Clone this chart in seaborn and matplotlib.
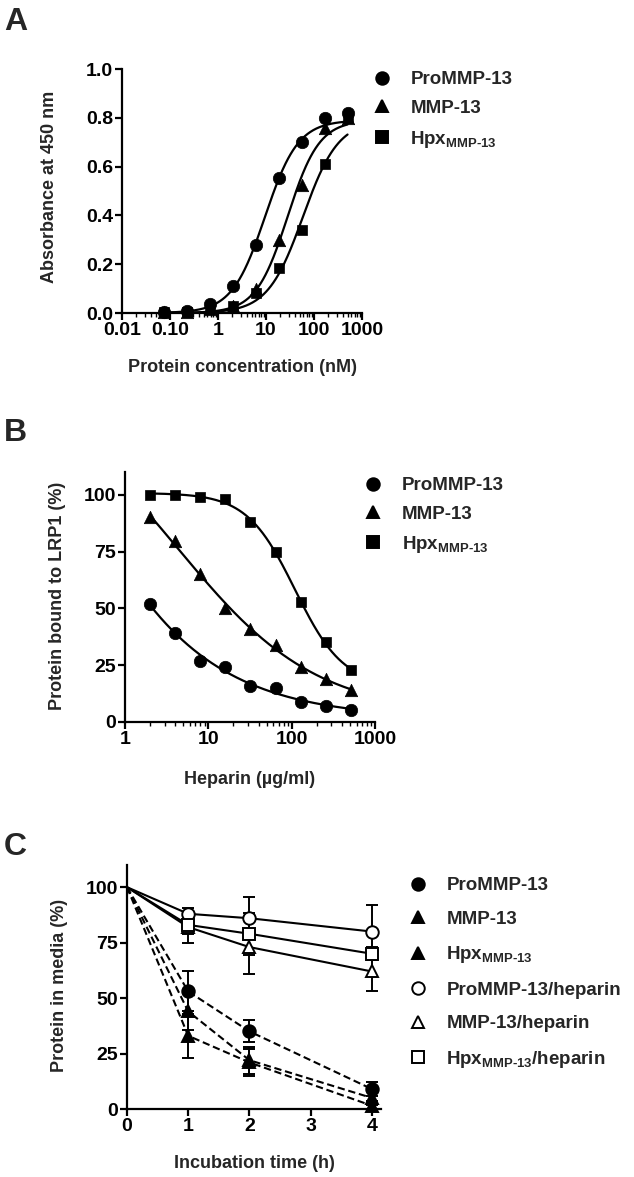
import numpy as np
import pandas as pd
import matplotlib
matplotlib.use('Agg')
import matplotlib.pyplot as plt
import seaborn as sns
from matplotlib.lines import Line2D
from matplotlib.ticker import FixedLocator, FixedFormatter, LogLocator, NullFormatter

# ---- panel A: binding to LRP1 (ELISA)
conc_nM = [0.076, 0.229, 0.686, 2.06, 6.17, 18.5, 55.6, 167, 500]
abs_pro = [0.005, 0.01, 0.035, 0.11, 0.28, 0.555, 0.70, 0.80, 0.82]
abs_mmp = [0.005, 0.005, 0.015, 0.03, 0.10, 0.30, 0.525, 0.76, 0.80]
abs_hpx = [0.005, 0.005, 0.02, 0.03, 0.08, 0.185, 0.34, 0.61, 0.80]
# plateau of the fitted curves (shared bottom / top)
abs_fit_bottom = 0.0
abs_fit_top = 0.79

# ---- panel B: heparin competition
heparin = [2, 4, 8, 16, 32, 64, 128, 256, 512]
bound_pro = [52, 39, 27, 24, 16, 15, 9, 7, 5.5]
bound_mmp = [90, 79.5, 65, 50, 41, 34, 24, 19, 14]
bound_hpx = [100, 100, 99, 98, 88, 75, 53, 35, 23]

# ---- panel C: protein left in media
time_h = [0, 1, 2, 4]
media_pro = [100, 53, 35, 9]
media_pro_err = [0, 9, 5, 3]
media_mmp = [100, 44, 22, 5]
media_mmp_err = [0, 8.5, 6, 3]
media_hpx = [100, 33, 21, 1.5]
media_hpx_err = [0, 10, 6, 2]
media_pro_hep = [100, 88, 86, 80]
media_pro_hep_err = [0, 2.5, 9.5, 12]
media_mmp_hep = [100, 82, 73, 62]
media_mmp_hep_err = [0, 7, 12, 9]
media_hpx_hep = [100, 83, 79, 70]
media_hpx_hep_err = [0, 4, 9.5, 3]

HPX = r'Hpx$_{\text{MMP-13}}$'

sns.set_theme(style='ticks')
plt.rcParams['font.family'] = ['Liberation Sans', 'DejaVu Sans']
plt.rcParams['font.weight'] = 'bold'
plt.rcParams['axes.labelweight'] = 'bold'
plt.rcParams['mathtext.fontset'] = 'custom'
plt.rcParams['mathtext.rm'] = 'Liberation Sans:bold'
plt.rcParams['mathtext.it'] = 'Liberation Sans:bold'
plt.rcParams['mathtext.bf'] = 'Liberation Sans:bold'
plt.rcParams['mathtext.default'] = 'rm'

W, H = 634, 1177
fig = plt.figure(figsize=(W / 100, H / 100), dpi=100)
fig.patch.set_facecolor('white')


def px_axes(l, r, t, b):
    return fig.add_axes([l / W, 1 - b / H, (r - l) / W, (b - t) / H])


def fit_4pl(x, y, bottom=None, top=None):
    # crude grid search for a 4 parameter logistic, linear part solved directly
    lx = np.log10(np.asarray(x, float))
    y = np.asarray(y, float)
    logc = np.arange(-1.5, 3.5, 0.01)[:, None, None]
    hill = np.arange(0.3, 3.0, 0.02)[None, :, None]
    s = 1 / (1 + 10 ** ((logc - lx) * hill))
    with np.errstate(all='ignore'):
        if bottom is None:
            sm = s.mean(-1, keepdims=True)
            ym = y.mean()
            c = ((s - sm) * (y - ym)).sum(-1) / ((s - sm) ** 2).sum(-1)
            a = ym - c * sm[..., 0]
        else:
            a = np.full(s.shape[:2], bottom)
            c = np.full(s.shape[:2], top - bottom)
        sse = ((a[..., None] + c[..., None] * s - y) ** 2).sum(-1)
    sse = np.nan_to_num(sse, nan=np.inf)
    i, j = np.unravel_index(np.argmin(sse), sse.shape)
    lc, hh, aa, cc = logc[i, 0, 0], hill[0, j, 0], a[i, j], c[i, j]
    return lambda xx: aa + cc / (1 + 10 ** ((lc - np.log10(xx)) * hh))


def style_axes(ax):
    sns.despine(ax=ax)
    for sp in ['left', 'bottom']:
        ax.spines[sp].set_linewidth(1.6)
        ax.spines[sp].set_color('black')
    ax.tick_params(axis='both', which='major', length=5, width=1.6, color='black',
                   labelsize=14, pad=1.5, labelcolor='black')
    ax.tick_params(axis='both', which='minor', length=3, width=1.0, color='black')
    ax.set_facecolor('white')
    for lab in ax.get_xticklabels() + ax.get_yticklabels():
        lab.set_fontweight('bold')


def add_legend(handles, labels, x_px, y_px, spacing):
    fig.legend(handles, labels, loc='upper left', bbox_to_anchor=(x_px / W, 1 - y_px / H),
               frameon=False, borderpad=0, borderaxespad=0, handlelength=1.0,
               handletextpad=1.0, labelspacing=spacing, prop={'size': 13.5, 'weight': 'bold'})


def mk(marker, face='black', size=9):
    return Line2D([], [], ls='none', marker=marker, markersize=size,
                  markerfacecolor=face, markeredgecolor='black', markeredgewidth=1.4)


def sigmoid_panel(ax, x, series, bottom=None, top=None):
    xs = np.logspace(np.log10(min(x)), np.log10(max(x)), 300)
    for y, marker, size in series:
        f = fit_4pl(x, y, bottom, top)
        sns.lineplot(x=xs, y=f(xs), ax=ax, color='black', lw=1.6, zorder=2)
        sns.scatterplot(x=x, y=y, ax=ax, marker=marker, s=size, color='black',
                        edgecolor='black', linewidth=0.5, zorder=3, clip_on=False)
    ax.set_xscale('log')


# ---------------- A
axA = px_axes(122, 362, 69, 313)
sigmoid_panel(axA, conc_nM, [(abs_pro, 'o', 80), (abs_mmp, '^', 80), (abs_hpx, 's', 60)],
              abs_fit_bottom, abs_fit_top)
axA.set_xlim(0.01, 1000)
axA.set_ylim(0, 1.0)
axA.xaxis.set_major_locator(FixedLocator([0.01, 0.1, 1, 10, 100, 1000]))
axA.xaxis.set_major_formatter(FixedFormatter(['0.01', '0.10', '1', '10', '100', '1000']))
axA.xaxis.set_minor_locator(LogLocator(base=10, subs=np.arange(2, 10)))
axA.xaxis.set_minor_formatter(NullFormatter())
axA.set_yticks([0, 0.2, 0.4, 0.6, 0.8, 1.0])
axA.set_yticklabels(['0.0', '0.2', '0.4', '0.6', '0.8', '1.0'])
style_axes(axA)
axA.set_xlabel('Protein concentration (nM)', fontsize=13, fontweight='bold')
axA.set_ylabel('Absorbance at 450 nm', fontsize=13, fontweight='bold')
axA.xaxis.set_label_coords(0.5, -0.19)
axA.yaxis.set_label_coords(-0.267, 0.515)
add_legend([mk('o'), mk('^'), mk('s', size=8)], ['ProMMP-13', 'MMP-13', HPX], 373, 71, 0.62)

# ---------------- B
axB = px_axes(125, 375, 472, 722)
sigmoid_panel(axB, heparin, [(bound_pro, 'o', 80), (bound_mmp, '^', 80), (bound_hpx, 's', 60)])
axB.set_xlim(1, 1000)
axB.set_ylim(0, 110)
axB.xaxis.set_major_locator(FixedLocator([1, 10, 100, 1000]))
axB.xaxis.set_major_formatter(FixedFormatter(['1', '10', '100', '1000']))
axB.xaxis.set_minor_locator(LogLocator(base=10, subs=np.arange(2, 10)))
axB.xaxis.set_minor_formatter(NullFormatter())
axB.set_yticks([0, 25, 50, 75, 100])
style_axes(axB)
axB.set_xlabel('Heparin (µg/ml)', fontsize=13, fontweight='bold')
axB.set_ylabel('Protein bound to LRP1 (%)', fontsize=13, fontweight='bold')
axB.xaxis.set_label_coords(0.5, -0.196)
axB.yaxis.set_label_coords(-0.236, 0.504)
add_legend([mk('o'), mk('^'), mk('s', size=8)], ['ProMMP-13', 'MMP-13', HPX], 364, 477, 0.6)

# ---------------- C
axC = px_axes(127, 381, 865, 1109)
c_series = [
    (media_pro, media_pro_err, 'o', 'black', (3.5, 1.8)),
    (media_mmp, media_mmp_err, '^', 'black', (3.5, 1.8)),
    (media_hpx, media_hpx_err, '^', 'black', (3.5, 1.8)),
    (media_pro_hep, media_pro_hep_err, 'o', 'white', None),
    (media_mmp_hep, media_mmp_hep_err, '^', 'white', None),
    (media_hpx_hep, media_hpx_hep_err, 's', 'white', None),
]
for y, err, marker, face, dash in c_series:
    sns.lineplot(x=time_h, y=y, ax=axC, color='black', lw=1.5, zorder=2)
    if dash is not None:
        axC.lines[-1].set_dashes(dash)
    axC.errorbar(time_h[1:], y[1:], yerr=err[1:], fmt='none', ecolor='black',
                 elinewidth=1.4, capsize=4.5, capthick=1.4, zorder=3, clip_on=False)
    axC.plot(time_h[1:], y[1:], ls='none', marker=marker, markersize=9,
             markerfacecolor=face, markeredgecolor='black', markeredgewidth=1.4,
             zorder=4, clip_on=False)
axC.set_xlim(0, 4.15)
axC.set_ylim(0, 110)
axC.set_xticks([0, 1, 2, 3, 4])
axC.set_yticks([0, 25, 50, 75, 100])
style_axes(axC)
axC.set_xlabel('Incubation time (h)', fontsize=13, fontweight='bold')
axC.set_ylabel('Protein in media (%)', fontsize=13, fontweight='bold')
axC.xaxis.set_label_coords(0.5, -0.189)
axC.yaxis.set_label_coords(-0.232, 0.508)
add_legend([mk('o'), mk('^'), mk('^'), mk('o', 'white'), mk('^', 'white'), mk('s', 'white', 8)],
           ['ProMMP-13', 'MMP-13', HPX, 'ProMMP-13/heparin', 'MMP-13/heparin', HPX + '/heparin'],
           409, 877, 0.88)

for letter, y in [('A', 7), ('B', 418), ('C', 832)]:
    fig.text(4 / W, 1 - y / H, letter, fontsize=23, fontweight='bold', va='top', ha='left')

fig.savefig('out.png', dpi=100, facecolor='white')
